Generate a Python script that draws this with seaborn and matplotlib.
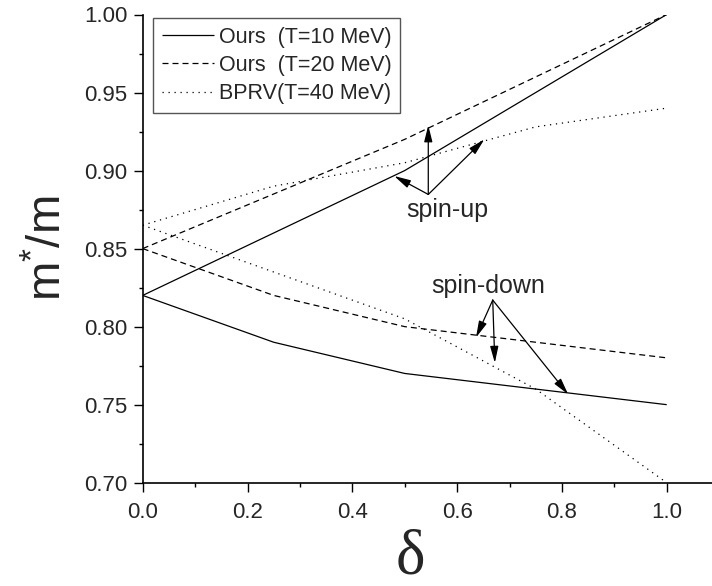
import matplotlib
matplotlib.use("Agg")
import matplotlib.pyplot as plt
from matplotlib.ticker import MultipleLocator, FormatStrFormatter
import seaborn as sns
import pandas as pd

# ---- data ----
delta = [0.0, 0.25, 0.5, 0.75, 1.0]
ours10_up = [0.82, 0.86, 0.90, 0.95, 1.00]
ours10_down = [0.82, 0.79, 0.77, 0.76, 0.75]
ours20_up = [0.85, 0.885, 0.92, 0.96, 1.00]
ours20_down = [0.85, 0.82, 0.80, 0.79, 0.78]
bprv_up = [0.865, 0.89, 0.905, 0.928, 0.94]
bprv_down = [0.865, 0.835, 0.805, 0.76, 0.70]

legend_labels = ["Ours  (T=10 MeV)", "Ours  (T=20 MeV)", "BPRV(T=40 MeV)"]
x_ticks = [0.0, 0.2, 0.4, 0.6, 0.8, 1.0]
y_ticks = [0.70, 0.75, 0.80, 0.85, 0.90, 0.95, 1.00]

# annotation anchors (text position, arrow origin, arrow targets)
spin_up_text = (0.581, 0.8704)
spin_up_origin = (0.545, 0.8847)
spin_up_targets = [(0.545, 0.929), (0.480, 0.8965), (0.652, 0.920)]
spin_down_text = (0.6596, 0.8217)
spin_down_origin = (0.668, 0.817)
spin_down_targets = [(0.636, 0.793), (0.672, 0.7768), (0.812, 0.7566)]

sns.set_style("ticks")
plt.rcParams["font.family"] = ["Liberation Sans", "DejaVu Sans"]
plt.rcParams["mathtext.fontset"] = "custom"
plt.rcParams["mathtext.rm"] = "Liberation Sans"
plt.rcParams["mathtext.it"] = "Liberation Sans"

W, H = 712, 586
fig = plt.figure(figsize=(W / 100, H / 100), dpi=100)
ax_left, ax_bottom = 142.7 / W, (H - 482.7) / H
ax_top = (H - 14.5) / H
ax = fig.add_axes([ax_left, ax_bottom, 1.0 - ax_left, ax_top - ax_bottom])

series = [
    (ours10_up, (0, ()), legend_labels[0]),
    (ours10_down, (0, ()), None),
    (ours20_up, (0, (4.8, 3.2)), legend_labels[1]),
    (ours20_down, (0, (4.8, 3.2)), None),
    (bprv_up, (0, (1, 3.8)), legend_labels[2]),
    (bprv_down, (0, (1, 3.8)), None),
]
handles = []
for vals, ls, lab in series:
    df = pd.DataFrame({"delta": delta, "m": vals})
    n_before = len(ax.lines)
    sns.lineplot(data=df, x="delta", y="m", ax=ax, color="black",
                 linewidth=0.9, linestyle=ls, legend=False)
    line = ax.lines[n_before]
    line.set_linestyle(ls)
    if lab:
        line.set_label(lab)
        handles.append(line)

ax.set_xlim(0, (712 - 142.7) / 524.0)
ax.set_ylim(0.70, 1.00)
ax.set_xticks(x_ticks)
ax.set_yticks(y_ticks)
ax.xaxis.set_minor_locator(MultipleLocator(0.1))
ax.yaxis.set_minor_locator(MultipleLocator(0.025))
ax.xaxis.set_major_formatter(FormatStrFormatter("%.1f"))
ax.yaxis.set_major_formatter(FormatStrFormatter("%.2f"))
ax.tick_params(axis="both", which="major", direction="out", length=6.7,
               width=1.0, labelsize=16, color="black")
ax.tick_params(axis="both", which="minor", direction="out", length=3.2,
               width=1.0, color="black")
ax.tick_params(axis="x", which="major", pad=7)
ax.tick_params(axis="y", which="major", pad=4.5)
sns.despine(ax=ax)
for s in ["left", "bottom"]:
    ax.spines[s].set_linewidth(1.2)
    ax.spines[s].set_color("black")

ax.set_xlabel("δ", fontsize=45, family=["Liberation Serif", "DejaVu Serif"])
ax.xaxis.set_label_coords(0.47, -0.10)
ax.set_ylabel(r"$\mathregular{m^{*}/m}$", fontsize=34)
ax.yaxis.set_label_coords(-0.125, 0.5)

leg = ax.legend(handles=handles, loc="upper left",
                bbox_to_anchor=(153.3 / W, 1 - 18.3 / H),
                bbox_transform=fig.transFigure, borderaxespad=0,
                fontsize=15.5, handlelength=2.4, handletextpad=0.25,
                labelspacing=0.33, borderpad=0.4, fancybox=False,
                framealpha=1, edgecolor="#555555")
leg.get_frame().set_linewidth(1.0)

arrow_kw = dict(arrowstyle="-|>,head_length=1.0,head_width=0.25",
                color="black", lw=0.9, mutation_scale=10,
                shrinkA=0, shrinkB=0)
ax.text(*spin_up_text, "spin-up", ha="center", va="baseline", fontsize=18)
for tgt in spin_up_targets:
    ax.annotate("", xy=tgt, xytext=spin_up_origin, arrowprops=arrow_kw)
ax.text(*spin_down_text, "spin-down", ha="center", va="baseline", fontsize=18)
for tgt in spin_down_targets:
    ax.annotate("", xy=tgt, xytext=spin_down_origin, arrowprops=arrow_kw)

fig.savefig("out.png", dpi=100)
